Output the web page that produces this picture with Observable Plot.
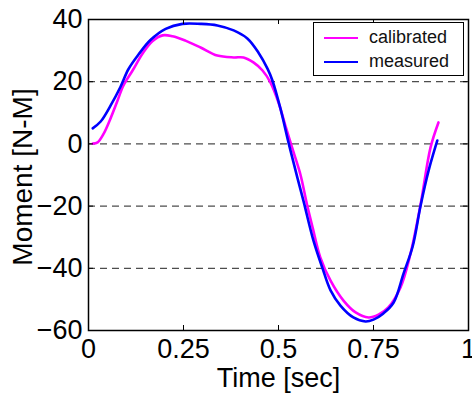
<!DOCTYPE html>
<html>
<head>
<meta charset="utf-8">
<script src="https://cdn.jsdelivr.net/npm/d3@7"></script>
<script src="https://cdn.jsdelivr.net/npm/@observablehq/plot@0.6"></script>
<style>
  html, body { margin: 0; padding: 0; background: #fff; }
  #wrap { position: relative; width: 472px; height: 398px; font-family: "Liberation Sans", Arial, sans-serif; }
  #legend { position: absolute; left: 313px; top: 22px; width: 149px; height: 52px; border: 1.3px solid #000; background: #fff; }
  .row { position: absolute; left: 10px; display: flex; align-items: center; font-size: 18px; color: #111; }
  .sw { width: 34px; height: 0; border-top: 2.5px solid; margin-right: 11px; }
</style>
</head>
<body>
<div id="wrap"></div>
<script>
const seriesNames = ["calibrated", "measured"];
const seriesColors = ["#ff00ff", "#0000ff"];

const calibratedT = [0.011,0.024,0.040,0.058,0.076,0.092,0.116,0.142,0.168,0.195,0.221,0.255,0.295,0.339,0.382,0.408,0.434,0.458,0.479,0.500,0.518,0.540,0.558,0.575,0.590,0.610,0.637,0.671,0.703,0.737,0.763,0.789,0.821,0.847,0.874,0.900,0.921];
const calibratedV = [0.1,0.5,3.3,8.2,13.8,18.8,23.6,29.0,33.0,34.9,34.6,33.2,31.0,28.4,27.8,27.8,26.2,23.6,19.7,13.3,5.9,-2.8,-10.0,-19.5,-27.0,-36.5,-44.0,-50.4,-54.2,-55.8,-54.9,-52.6,-46.2,-35.5,-19.4,-1.2,6.9];

const measuredT = [0.011,0.032,0.058,0.084,0.105,0.132,0.163,0.203,0.247,0.295,0.339,0.382,0.418,0.447,0.471,0.484,0.505,0.527,0.550,0.566,0.592,0.615,0.637,0.663,0.697,0.729,0.750,0.776,0.803,0.829,0.853,0.874,0.895,0.918];
const measuredV = [5.0,7.2,12.3,18.3,24.0,28.8,33.4,37.0,38.6,38.6,38.1,36.5,33.9,29.4,24.2,20.4,11.4,0.1,-11.0,-18.5,-31.1,-39.7,-47.1,-52.0,-55.8,-57.1,-56.5,-54.5,-51.0,-41.7,-33.0,-19.8,-8.6,1.1];

const xTicks = [0, 0.25, 0.5, 0.75, 1];
const xTickLabels = ["0", "0.25", "0.5", "0.75", "1"];
const yTicks = [-60, -40, -20, 0, 20, 40];
const gridY = [-40, -20, 0, 20];
const xLabel = "Time [sec]";
const yLabel = "Moment [N-M]";

const calibrated = calibratedT.map((t, i) => ({t, v: calibratedV[i]}));
const measured = measuredT.map((t, i) => ({t, v: measuredV[i]}));

const W = 472, H = 398, mL = 88, mR = 4, mT = 19, mB = 68;
const innerH = H - mT - mB, innerW = W - mL - mR;
const font = "'Liberation Sans', Arial, sans-serif";

const chart = Plot.plot({
  width: W, height: H,
  marginLeft: mL, marginRight: mR, marginTop: mT, marginBottom: mB,
  style: {fontFamily: font, background: "#fff", color: "#000", overflow: "visible"},
  x: {domain: [0, 1]},
  y: {domain: [-60, 40]},
  marks: [
    Plot.ruleY(gridY, {stroke: "#4d4d4d", strokeDasharray: "7,5", strokeWidth: 1.3}),
    Plot.line(calibrated, {x: "t", y: "v", stroke: seriesColors[0], strokeWidth: 2.6, curve: "catmull-rom"}),
    Plot.line(measured, {x: "t", y: "v", stroke: seriesColors[1], strokeWidth: 2.6, curve: "catmull-rom"}),
    Plot.tickX(xTicks.slice(1, -1), {x: d => d, stroke: "#000", insetTop: innerH - 5}),
    Plot.tickX(xTicks.slice(1, -1), {x: d => d, stroke: "#000", insetBottom: innerH - 5}),
    Plot.tickY(gridY, {y: d => d, stroke: "#000", insetRight: innerW - 5}),
    Plot.tickY(gridY, {y: d => d, stroke: "#000", insetLeft: innerW - 5}),
    Plot.frame({stroke: "#000", strokeWidth: 1.5}),
    Plot.axisX({ticks: xTicks, tickSize: 0, tickPadding: 8, tickFormat: d => xTickLabels[xTicks.indexOf(d)], fontSize: 27, label: null}),
    Plot.axisY({ticks: yTicks, tickSize: 0, tickPadding: 6, fontSize: 27, label: null}),
    Plot.text([xLabel], {frameAnchor: "bottom", dy: 48, fontSize: 27, textAnchor: "middle", lineAnchor: "middle", fill: "#000"}),
    Plot.text([yLabel], {frameAnchor: "left", rotate: -90, dx: -65, dy: 2, fontSize: 28, textAnchor: "middle", lineAnchor: "middle", fill: "#000"})
  ]
});

const wrap = document.getElementById("wrap");
wrap.appendChild(chart);

const legend = document.createElement("div");
legend.id = "legend";
seriesNames.forEach((name, i) => {
  const row = document.createElement("div");
  row.className = "row";
  row.style.top = (i === 0 ? 4 : 28) + "px";
  const sw = document.createElement("span");
  sw.className = "sw";
  sw.style.borderTopColor = seriesColors[i];
  const tx = document.createElement("span");
  tx.textContent = name;
  row.appendChild(sw);
  row.appendChild(tx);
  legend.appendChild(row);
});
wrap.appendChild(legend);
</script>
</body>
</html>
